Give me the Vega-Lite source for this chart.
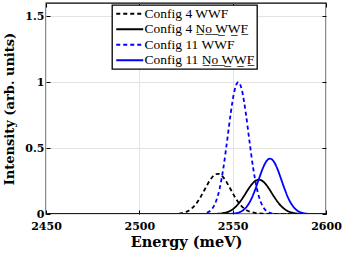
{
  "$schema": "https://vega.github.io/schema/vega-lite/v6.json",
  "autosize": {"type": "none"},
  "width": 280,
  "height": 211,
  "padding": {"left": 46, "top": 3, "right": 20, "bottom": 40},
  "background": "white",
  "config": {
    "view": {"stroke": "black", "strokeWidth": 1.3},
    "axis": {
      "grid": true,
      "gridColor": "#e3e3e3",
      "gridWidth": 1,
      "domain": false,
      "tickColor": "black",
      "tickSize": -4,
      "labelFlush": false,
      "labelFont": "DejaVu Serif",
      "labelFontWeight": "bold",
      "labelFontSize": 11,
      "labelColor": "black",
      "titleFont": "DejaVu Serif",
      "titleFontWeight": "bold",
      "titleColor": "black"
    },
    "legend": {
      "orient": "none",
      "legendX": 66,
      "legendY": 2,
      "fillColor": "white",
      "strokeColor": "black",
      "strokeWidth": 1.3,
      "padding": 2,
      "symbolType": "M-1,0H5",
      "symbolSize": 81,
      "symbolStrokeWidth": 2,
      "labelFont": "Liberation Serif",
      "labelFontSize": 13.5,
      "labelColor": "black",
      "labelOffset": 17,
      "rowPadding": 0.5,
      "title": null
    }
  },
  "data": {
    "values": [
      {"s": "Config 4 WWF", "e": 2450, "i": 0},
      {"s": "Config 4 WWF", "e": 2516, "i": 0},
      {"s": "Config 4 WWF", "e": 2518, "i": 0.001},
      {"s": "Config 4 WWF", "e": 2520, "i": 0.002},
      {"s": "Config 4 WWF", "e": 2522, "i": 0.005},
      {"s": "Config 4 WWF", "e": 2524, "i": 0.011},
      {"s": "Config 4 WWF", "e": 2526, "i": 0.022},
      {"s": "Config 4 WWF", "e": 2528, "i": 0.041},
      {"s": "Config 4 WWF", "e": 2530, "i": 0.070},
      {"s": "Config 4 WWF", "e": 2532, "i": 0.110},
      {"s": "Config 4 WWF", "e": 2534, "i": 0.159},
      {"s": "Config 4 WWF", "e": 2536, "i": 0.211},
      {"s": "Config 4 WWF", "e": 2538, "i": 0.259},
      {"s": "Config 4 WWF", "e": 2540, "i": 0.293},
      {"s": "Config 4 WWF", "e": 2542, "i": 0.305},
      {"s": "Config 4 WWF", "e": 2544, "i": 0.293},
      {"s": "Config 4 WWF", "e": 2546, "i": 0.259},
      {"s": "Config 4 WWF", "e": 2548, "i": 0.211},
      {"s": "Config 4 WWF", "e": 2550, "i": 0.159},
      {"s": "Config 4 WWF", "e": 2552, "i": 0.110},
      {"s": "Config 4 WWF", "e": 2554, "i": 0.072},
      {"s": "Config 4 WWF", "e": 2556, "i": 0.044},
      {"s": "Config 4 WWF", "e": 2558, "i": 0.025},
      {"s": "Config 4 WWF", "e": 2560, "i": 0.014},
      {"s": "Config 4 WWF", "e": 2562, "i": 0.008},
      {"s": "Config 4 WWF", "e": 2564, "i": 0.005},
      {"s": "Config 4 WWF", "e": 2566, "i": 0.003},
      {"s": "Config 4 WWF", "e": 2568, "i": 0.002},
      {"s": "Config 4 WWF", "e": 2570, "i": 0.001},
      {"s": "Config 4 WWF", "e": 2572, "i": 0},
      {"s": "Config 4 WWF", "e": 2600, "i": 0},
      {"s": "Config 4 No WWF", "e": 2450, "i": 0},
      {"s": "Config 4 No WWF", "e": 2538, "i": 0},
      {"s": "Config 4 No WWF", "e": 2540, "i": 0.001},
      {"s": "Config 4 No WWF", "e": 2542, "i": 0.002},
      {"s": "Config 4 No WWF", "e": 2544, "i": 0.004},
      {"s": "Config 4 No WWF", "e": 2546, "i": 0.010},
      {"s": "Config 4 No WWF", "e": 2548, "i": 0.019},
      {"s": "Config 4 No WWF", "e": 2550, "i": 0.035},
      {"s": "Config 4 No WWF", "e": 2552, "i": 0.060},
      {"s": "Config 4 No WWF", "e": 2554, "i": 0.094},
      {"s": "Config 4 No WWF", "e": 2556, "i": 0.135},
      {"s": "Config 4 No WWF", "e": 2558, "i": 0.180},
      {"s": "Config 4 No WWF", "e": 2560, "i": 0.221},
      {"s": "Config 4 No WWF", "e": 2562, "i": 0.250},
      {"s": "Config 4 No WWF", "e": 2564, "i": 0.260},
      {"s": "Config 4 No WWF", "e": 2566, "i": 0.250},
      {"s": "Config 4 No WWF", "e": 2568, "i": 0.221},
      {"s": "Config 4 No WWF", "e": 2570, "i": 0.180},
      {"s": "Config 4 No WWF", "e": 2572, "i": 0.135},
      {"s": "Config 4 No WWF", "e": 2574, "i": 0.094},
      {"s": "Config 4 No WWF", "e": 2576, "i": 0.060},
      {"s": "Config 4 No WWF", "e": 2578, "i": 0.035},
      {"s": "Config 4 No WWF", "e": 2580, "i": 0.019},
      {"s": "Config 4 No WWF", "e": 2582, "i": 0.010},
      {"s": "Config 4 No WWF", "e": 2584, "i": 0.004},
      {"s": "Config 4 No WWF", "e": 2586, "i": 0.002},
      {"s": "Config 4 No WWF", "e": 2588, "i": 0.001},
      {"s": "Config 4 No WWF", "e": 2590, "i": 0},
      {"s": "Config 4 No WWF", "e": 2600, "i": 0},
      {"s": "Config 11 WWF", "e": 2450, "i": 0},
      {"s": "Config 11 WWF", "e": 2529, "i": 0},
      {"s": "Config 11 WWF", "e": 2531, "i": 0.0003},
      {"s": "Config 11 WWF", "e": 2533, "i": 0.0013},
      {"s": "Config 11 WWF", "e": 2535, "i": 0.0047},
      {"s": "Config 11 WWF", "e": 2537, "i": 0.0145},
      {"s": "Config 11 WWF", "e": 2539, "i": 0.039},
      {"s": "Config 11 WWF", "e": 2541, "i": 0.093},
      {"s": "Config 11 WWF", "e": 2543, "i": 0.191},
      {"s": "Config 11 WWF", "e": 2545, "i": 0.347},
      {"s": "Config 11 WWF", "e": 2547, "i": 0.552},
      {"s": "Config 11 WWF", "e": 2549, "i": 0.768},
      {"s": "Config 11 WWF", "e": 2551, "i": 0.936},
      {"s": "Config 11 WWF", "e": 2553, "i": 1.0},
      {"s": "Config 11 WWF", "e": 2555, "i": 0.936},
      {"s": "Config 11 WWF", "e": 2557, "i": 0.768},
      {"s": "Config 11 WWF", "e": 2559, "i": 0.552},
      {"s": "Config 11 WWF", "e": 2561, "i": 0.347},
      {"s": "Config 11 WWF", "e": 2563, "i": 0.191},
      {"s": "Config 11 WWF", "e": 2565, "i": 0.093},
      {"s": "Config 11 WWF", "e": 2567, "i": 0.039},
      {"s": "Config 11 WWF", "e": 2569, "i": 0.0145},
      {"s": "Config 11 WWF", "e": 2571, "i": 0.0047},
      {"s": "Config 11 WWF", "e": 2573, "i": 0.0013},
      {"s": "Config 11 WWF", "e": 2575, "i": 0.0003},
      {"s": "Config 11 WWF", "e": 2577, "i": 0},
      {"s": "Config 11 WWF", "e": 2600, "i": 0},
      {"s": "Config 11 No WWF", "e": 2450, "i": 0},
      {"s": "Config 11 No WWF", "e": 2546, "i": 0},
      {"s": "Config 11 No WWF", "e": 2548, "i": 0.0008},
      {"s": "Config 11 No WWF", "e": 2550, "i": 0.0023},
      {"s": "Config 11 No WWF", "e": 2552, "i": 0.0062},
      {"s": "Config 11 No WWF", "e": 2554, "i": 0.015},
      {"s": "Config 11 No WWF", "e": 2556, "i": 0.0328},
      {"s": "Config 11 No WWF", "e": 2558, "i": 0.0646},
      {"s": "Config 11 No WWF", "e": 2560, "i": 0.114},
      {"s": "Config 11 No WWF", "e": 2562, "i": 0.183},
      {"s": "Config 11 No WWF", "e": 2564, "i": 0.263},
      {"s": "Config 11 No WWF", "e": 2566, "i": 0.341},
      {"s": "Config 11 No WWF", "e": 2568, "i": 0.399},
      {"s": "Config 11 No WWF", "e": 2570, "i": 0.420},
      {"s": "Config 11 No WWF", "e": 2572, "i": 0.399},
      {"s": "Config 11 No WWF", "e": 2574, "i": 0.341},
      {"s": "Config 11 No WWF", "e": 2576, "i": 0.263},
      {"s": "Config 11 No WWF", "e": 2578, "i": 0.183},
      {"s": "Config 11 No WWF", "e": 2580, "i": 0.114},
      {"s": "Config 11 No WWF", "e": 2582, "i": 0.0646},
      {"s": "Config 11 No WWF", "e": 2584, "i": 0.0328},
      {"s": "Config 11 No WWF", "e": 2586, "i": 0.015},
      {"s": "Config 11 No WWF", "e": 2588, "i": 0.0062},
      {"s": "Config 11 No WWF", "e": 2590, "i": 0.0023},
      {"s": "Config 11 No WWF", "e": 2592, "i": 0.0008},
      {"s": "Config 11 No WWF", "e": 2594, "i": 0},
      {"s": "Config 11 No WWF", "e": 2600, "i": 0}
    ]
  },
  "layer": [
    {
      "mark": {"type": "line", "interpolate": "monotone", "strokeWidth": 1.8, "clip": true},
      "encoding": {
        "x": {
          "field": "e", "type": "quantitative",
          "scale": {"domain": [2450, 2600], "nice": false, "zero": false},
          "axis": {"values": [2450, 2500, 2550, 2600], "title": "Energy (meV)", "titleFontSize": 14.5, "labelPadding": 10, "titlePadding": 4, "format": "d"}
        },
        "y": {
          "field": "i", "type": "quantitative",
          "scale": {"domain": [0, 1.6], "nice": false},
          "axis": {"values": [0, 0.5, 1, 1.5], "title": "Intensity (arb. units)", "titleFontSize": 13, "labelPadding": 6, "titlePadding": 8, "format": "~g"}
        },
        "color": {
          "field": "s", "type": "nominal",
          "scale": {"domain": ["Config 4 WWF", "Config 4 No WWF", "Config 11 WWF", "Config 11 No WWF"], "range": ["black", "black", "#0000ff", "#0000ff"]},
          "legend": {"labelExpr": "replace(datum.label, 'No WWF', 'N\u0332o\u0332 \u0332W\u0332W\u0332F\u0332')"}
        },
        "strokeDash": {
          "field": "s", "type": "nominal",
          "scale": {"domain": ["Config 4 WWF", "Config 4 No WWF", "Config 11 WWF", "Config 11 No WWF"], "range": [[4, 3], [1, 0], [4, 3], [1, 0]]},
          "legend": {"labelExpr": "replace(datum.label, 'No WWF', 'N\u0332o\u0332 \u0332W\u0332W\u0332F\u0332')"}
        },
        "order": {"field": "s"}
      }
    },
    {
      "mark": {"type": "point", "opacity": 0, "clip": true},
      "encoding": {
        "x": {
          "field": "e", "type": "quantitative",
          "axis": {"orient": "top", "values": [2450, 2500, 2550, 2600], "labels": false, "grid": false, "title": null}
        },
        "y": {
          "field": "i", "type": "quantitative",
          "axis": {"orient": "right", "values": [0, 0.5, 1, 1.5], "labels": false, "grid": false, "title": null}
        }
      }
    }
  ],
  "resolve": {"axis": {"x": "independent", "y": "independent"}}
}
